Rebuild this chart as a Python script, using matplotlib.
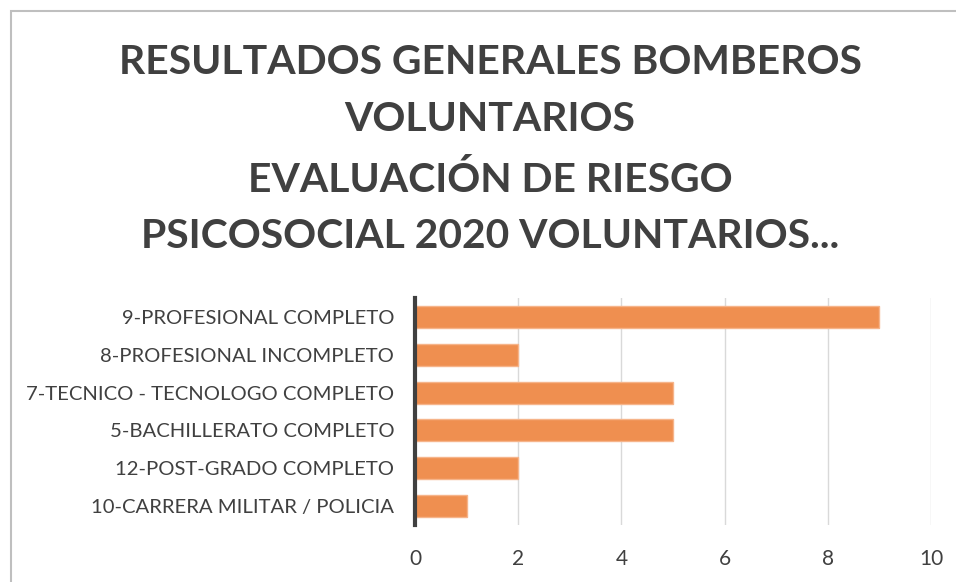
import matplotlib.pyplot as plt
from matplotlib.patches import Rectangle

# categories listed top to bottom as in the chart
categories = [
    '9-PROFESIONAL COMPLETO',
    '8-PROFESIONAL INCOMPLETO',
    '7-TECNICO - TECNOLOGO COMPLETO',
    '5-BACHILLERATO COMPLETO',
    '12-POST-GRADO COMPLETO',
    '10-CARRERA MILITAR / POLICIA',
]
counts = [9, 2, 5, 5, 2, 1]
xticks = [0, 2, 4, 6, 8, 10]

title_lines = [
    'RESULTADOS GENERALES BOMBEROS',
    'VOLUNTARIOS',
    'EVALUACIÓN DE RIESGO',
    'PSICOSOCIAL 2020 VOLUNTARIOS...',
]

text_color = '#404040'
bar_color = '#EF8F50'

plt.rcParams['font.family'] = ['Lato', 'DejaVu Sans']

fig = plt.figure(figsize=(9.56, 5.82), dpi=100)
W, H = 956, 582

# outer chart border (cropped on the right and bottom like the screenshot)
fig.patches.append(Rectangle((11 / W, -0.05), 1.0, 1 - 11 / H + 0.05,
                             transform=fig.transFigure, fill=False,
                             edgecolor='#BFBFBF', linewidth=1.5))

ax = fig.add_axes([415 / W, 1 - 525 / H, (931 - 415) / W, (525 - 298) / H])

y = list(range(len(categories)))
ax.barh(y, counts, height=0.58, color=bar_color, edgecolor='#F6B48A',
        linewidth=1, zorder=3)
ax.set_ylim(len(categories) - 0.5, -0.5)
ax.set_xlim(0, 10)

ax.set_yticks(y)
ax.set_yticklabels(categories, fontsize=14.6, color=text_color)
ax.set_xticks(xticks)
ax.set_xticklabels([str(t) for t in xticks], fontsize=15, color=text_color)
ax.tick_params(axis='both', length=0)
ax.tick_params(axis='y', pad=15)
ax.tick_params(axis='x', pad=17)

ax.grid(axis='x', color='#D9D9D9', linewidth=1, zorder=0)
for side in ['top', 'right', 'bottom']:
    ax.spines[side].set_visible(False)
ax.spines['left'].set_color(text_color)
ax.spines['left'].set_linewidth(3)
ax.spines['left'].set_zorder(4)

line_y = [62, 120, 180, 237]
for line, yy in zip(title_lines, line_y):
    fig.text(490 / W, 1 - yy / H, line, ha='center', va='center',
             fontsize=29.4, fontweight='bold', color=text_color)

fig.savefig('out.png', dpi=100)
